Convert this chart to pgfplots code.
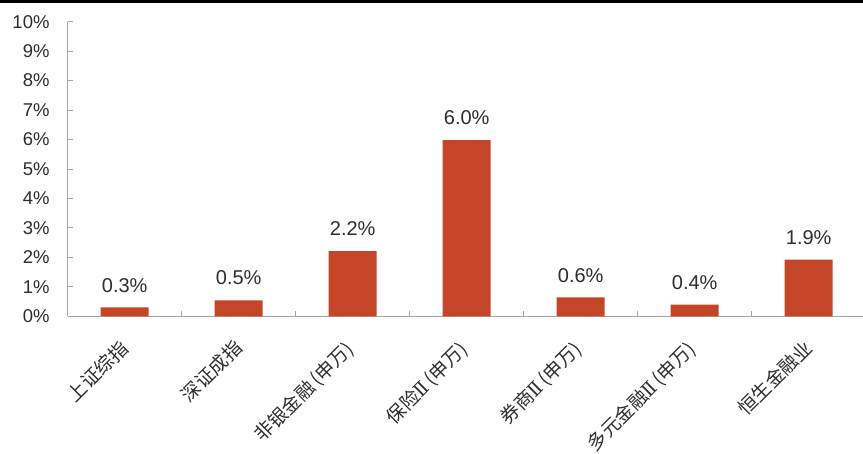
\documentclass[border=0pt]{standalone}
\usepackage{pgfplots}
\pgfplotsset{compat=1.18}
\usepackage{fontspec}
\setmainfont{Liberation Sans}
\newfontfamily\cjk{Noto Sans CJK SC}
\newfontfamily\rom{DejaVu Serif}
\definecolor{barc}{RGB}{196,69,39}
\definecolor{axc}{RGB}{166,166,166}
\definecolor{txt}{RGB}{45,45,45}
\newcommand\lp{\makebox[0.5em][r]{(}}
\newcommand\rp{\makebox[0.5em][l]{)}}
\newcommand\RII{{\rom Ⅱ}}
\begin{document}
\begin{tikzpicture}
\useasboundingbox (-67.7pt,-136.7pt) rectangle (795.3pt,316.3pt);
\clip (-67.7pt,-136.7pt) rectangle (795.3pt,316.3pt);
\begin{axis}[
  at={(0pt,0pt)}, anchor=south west,
  scale only axis, width=798pt, height=294.6pt,
  xmin=-0.5, xmax=6.5, ymin=0, ymax=10,
  ybar, bar width=48pt,
  axis lines*=left,
  axis line style={axc, line width=1pt},
  tick style={axc, line width=1pt},
  tick align=inside,
  major tick length=5pt, minor tick length=5pt,
  ytick={0,1,...,10},
  yticklabel={\pgfmathprintnumber{\tick}\%},
  yticklabel style={font=\fontsize{18.5}{20}\selectfont, text=txt, anchor=east, inner sep=0pt, xshift=-18pt},
  xtick={0,1,...,6},
  minor x tick num=1,
  major x tick style={draw=none},
  xticklabels={上证综指, 深证成指, 非银金融\lp 申万\rp, 保险\RII\lp 申万\rp, 券商\RII\lp 申万\rp, 多元金融\RII\lp 申万\rp, 恒生金融业},
  xticklabel style={yshift=-28pt, font=\cjk\fontsize{19}{21}\selectfont, text=txt, rotate=45, anchor=east, inner sep=0pt},
  /pgf/number format/assume math mode=true,
  nodes near coords={\pgfmathprintnumber[fixed,fixed zerofill,precision=1]{\pgfplotspointmeta}\%},
  every node near coord/.append style={font=\fontsize{20}{24}\selectfont, text=txt, anchor=south, inner sep=0pt, yshift=15pt},
  clip=false,
]
\addplot[fill=barc, draw=none] coordinates {(0,0.30) (1,0.54) (2,2.21) (3,5.98) (4,0.64) (5,0.40) (6,1.92)};
\end{axis}
\fill[black] (-67.7pt,313.6pt) rectangle (795.3pt,316.3pt);
\end{tikzpicture}
\end{document}
